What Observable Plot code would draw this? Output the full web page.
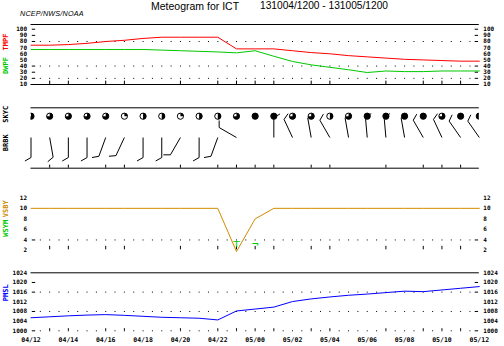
<!DOCTYPE html>
<html><head><meta charset="utf-8">
<script src="https://cdn.jsdelivr.net/npm/d3@7"></script>
<script src="https://cdn.jsdelivr.net/npm/@observablehq/plot@0.6"></script>
<style>
body{margin:0;background:#fff;}
#chart{position:relative;width:504px;height:346px;overflow:hidden;background:#fff;}
#chart svg{position:absolute;left:0;overflow:visible;}
.t{position:absolute;white-space:nowrap;line-height:1;color:#000;}
</style></head><body><div id="chart"></div>
<script>
// ---------- data (hours after 04/12 UTC, hourly observations) ----------
const hours   = [0,1,2,3,4,5,6,7,8,9,10,11,12,13,14,15,16,17,18,19,20,21,22,23,24];
const tmpf    = [74,74,75,77,80,82,85,87,87,87,87,68,68,68,65,62,60,57,55,53,51,50,49,48,48];
const dwpf    = [67,67,67,67,67,67,67,66,65,64,63,61.5,65,56,47.5,42,38,34,29.5,32,31,31,32,32,32];
const vsby    = [10,10,10,10,10,10,10,10,10,10,10,1.8,8,10,10,10,10,10,10,10,10,10,10,10,10];
const pmsl    = [1005.4,1005.8,1006.2,1006.5,1006.7,1006.4,1006.0,1005.6,1005.4,1005.2,1004.5,1008.2,1009.0,1009.8,1012.1,1013.2,1014.0,1014.7,1015.2,1015.8,1016.4,1016.2,1016.9,1017.6,1018.3];
const skyCover= [0.75,0.75,0.75,0.75,0.75,0.25,0.5,0.5,0.25,0.5,0.5,0.75,1,1,0.75,0.75,0.5,0.75,1,1,1,1,0.75,1,1];
const windDir = [180,170,180,180,200,205,180,180,210,180,200,300,0,360,335,350,330,350,355,355,350,330,335,325,325];
const windSpd = [10,10,10,10,10,10,10,10,10,10,10,10,0,10,10,10,10,10,10,10,10,10,10,10,10];
const wxHours   = [11, 12];
const wxSymbols = ["\u22A4", "\u00AC"];
const xLabelHours = [0,2,4,6,8,10,12,14,16,18,20,22,24];
const xLabels = ["04/12","04/14","04/16","04/18","04/20","04/22","05/00","05/02","05/04","05/06","05/08","05/10","05/12"];
const obsTickHours = [1,2,4,5,8,10,11,12,13,15,16,19,21,22,23];
const tempTicks = [10,20,30,40,50,60,70,80,90,100];
const tempDash  = [20,30,40,80,90,100];
const tempGrid  = [20,40,80];
const vsbyTicks = [2,4,6,8,10,12];
const vsbyDash  = [4];
const vsbyGrid  = [4];
const presTicks = [1000,1004,1008,1012,1016,1020,1024];
const presDash  = [1000,1008,1016,1020];
const presGrid  = [1000,1008,1016];

// ---------- layout ----------
const W = 504, ML = 30.5, MR = 25.2;
const XD = [0, 24];
const pxPerHour = (W - ML - MR) / (XD[1] - XD[0]);
const RED = "#ff0000", GREEN = "#00c800", ORANGE = "#d08c00", BLUE = "#0000ff";
const LBL = {fontFamily: "DejaVu Sans Mono", fontSize: 6, fontWeight: "bold"};
const obs = hours.map((h, i) => ({h, tmpf: tmpf[i], dwpf: dwpf[i], vsby: vsby[i], pmsl: pmsl[i], sky: skyCover[i], dir: windDir[i], spd: windSpd[i]}));

function yLabels(ticks) {
  return [
    Plot.text(ticks, {x: () => XD[0], y: d => d, text: d => String(d), dx: -4, textAnchor: "end", ...LBL, fill: "black"}),
    Plot.text(ticks, {x: () => XD[1], y: d => d, text: d => String(d), dx: 4, textAnchor: "start", ...LBL, fill: "black"})
  ];
}
function dashes(vals) {
  const t = 0.18;
  return [
    Plot.ruleY(vals, {x1: () => XD[0] + 0.07, x2: () => XD[0] + 0.07 + t, stroke: "black", strokeWidth: 1}),
    Plot.ruleY(vals, {x1: () => XD[1] - 0.22, x2: () => XD[1] - 0.22 + t, stroke: "black", strokeWidth: 1})
  ];
}
function grid(vals) {
  return Plot.ruleY(vals, {x1: () => 0.5, x2: () => 23.55, stroke: "black", strokeWidth: 1,
    strokeDasharray: `1 ${(pxPerHour / 2 - 1).toFixed(2)}`});
}
function panelLabel(words, colors, offsets) {
  return words.map((w, i) => Plot.text([w], {frameAnchor: "top-left", text: d => d, rotate: -90,
    dx: -27.5, dy: offsets[i], fill: colors[i], fontFamily: "DejaVu Sans Mono", fontSize: 7, fontWeight: "bold", textAnchor: "middle"}));
}
function panel(o) {
  const svg = Plot.plot({
    width: W, height: o.height, marginLeft: ML, marginRight: MR, marginTop: o.mt, marginBottom: o.mb,
    x: {domain: XD, axis: null},
    y: {domain: o.domain, axis: null},
    style: {background: "transparent", overflow: "visible"},
    marks: o.marks
  });
  svg.style.top = o.top + "px";
  document.getElementById("chart").appendChild(svg);
}

// symbols
function wedge(f) {
  return {draw(ctx, size) {
    const r = Math.sqrt(size / Math.PI), a0 = -Math.PI / 2;
    ctx.moveTo(0, 0);
    ctx.arc(0, 0, r, a0, a0 + 2 * Math.PI * f);
    ctx.closePath();
  }};
}
function barb(dir, spd) {
  return {draw(ctx) {
    const t = dir * Math.PI / 180;
    const sx = Math.sin(t), sy = -Math.cos(t);
    const px = -sy, py = sx;
    const L = 20, F = 7, gap = 3;
    ctx.moveTo(0, 0); ctx.lineTo(sx * L, sy * L);
    const full = Math.floor(spd / 10), half = (spd % 10) >= 5;
    let d = L;
    if (full === 0 && half) d = L - gap;
    const feather = (d, len) => {
      const bx = sx * d, by = sy * d;
      ctx.moveTo(bx, by);
      ctx.lineTo(bx + (px * 0.87 + sx * 0.5) * len, by + (py * 0.87 + sy * 0.5) * len);
    };
    for (let k = 0; k < full; k++) { feather(d, F); d -= gap; }
    if (half) feather(d, F / 2);
  }};
}

// ---------- panel 1: temperature / dewpoint ----------
const TD = [10, 107.7];
panel({top: 0, height: 90, mt: 24, mb: 6, domain: TD, marks: [
  Plot.ruleY([TD[1]], {stroke: "black", strokeWidth: 1}),
  Plot.ruleY([TD[0]], {stroke: "black", strokeWidth: 1}),
  grid(tempGrid), ...dashes(tempDash),
  Plot.ruleX(obsTickHours, {y1: TD[0], y2: TD[0] + 5.5, stroke: "black", strokeWidth: 1}),
  Plot.line(obs, {x: "h", y: "tmpf", stroke: RED, strokeWidth: 1}),
  Plot.line(obs, {x: "h", y: "dwpf", stroke: GREEN, strokeWidth: 1}),
  ...yLabels(tempTicks),
  ...panelLabel(["TMPF", "DWPF"], [RED, GREEN], [17.5, 41])
]});

// ---------- panel 2: wind barbs / sky cover ----------
const SD = [0, 1];
const SKY_ROW = 0.861, BARB_ROW = 0.508;
const byFrac = d3.group(obs.filter(d => d.sky > 0), d => d.sky);
panel({top: 95, height: 80, mt: 12.3, mb: 7.3, domain: SD, marks: [
  Plot.ruleY([SD[1]], {stroke: "black", strokeWidth: 1}),
  Plot.ruleY([SD[0]], {stroke: "black", strokeWidth: 1}),
  Plot.ruleX(obsTickHours, {y1: SD[0], y2: SD[0] + 0.05, stroke: "black", strokeWidth: 1}),
  ...obs.filter(d => d.spd > 0).map(d => Plot.dot([d], {x: "h", y: () => BARB_ROW, symbol: barb(d.dir, d.spd), r: 3, fill: "none", stroke: "black", strokeWidth: 1})),
  Plot.dot(obs, {x: "h", y: () => SKY_ROW, r: 3.1, fill: "white", stroke: "black", strokeWidth: 1, clip: true}),
  ...Array.from(byFrac, ([f, rows]) => Plot.dot(rows, {x: "h", y: () => SKY_ROW, r: 3.1, symbol: wedge(f), fill: "black", stroke: "none", clip: true})),
  ...panelLabel(["SKYC", "BRBK"], ["black", "black"], [6.5, 35])
]});

// ---------- panel 3: visibility / weather ----------
const VD = [2, 12];
panel({top: 180, height: 75, mt: 17.3, mb: 5, domain: VD, marks: [
  grid(vsbyGrid), ...dashes(vsbyDash),
  Plot.ruleX(obsTickHours, {y1: VD[0] + 0.13, y2: VD[0] + 0.78, stroke: "black", strokeWidth: 1}),
  Plot.line(obs, {x: "h", y: "vsby", stroke: ORANGE, strokeWidth: 1}),
  Plot.text(wxHours, {x: d => d, frameAnchor: "bottom", dy: -4, text: (d, i) => wxSymbols[i], fill: GREEN, fontFamily: "DejaVu Sans", fontSize: 9, fontWeight: "bold"}),
  ...yLabels(vsbyTicks),
  ...panelLabel(["VSBY", "WSYM"], [ORANGE, GREEN], [11, 30.5])
]});

// ---------- panel 4: pressure ----------
const PD = [1000, 1024];
panel({top: 255, height: 91, mt: 17.3, mb: 15.7, domain: PD, marks: [
  Plot.ruleY([PD[1]], {stroke: "black", strokeWidth: 1}),
  grid(presGrid), ...dashes(presDash),
  Plot.ruleX(obsTickHours, {y1: PD[0], y2: PD[0] + 0.85, stroke: "black", strokeWidth: 1}),
  Plot.line(obs, {x: "h", y: "pmsl", stroke: BLUE, strokeWidth: 1}),
  ...yLabels(presTicks),
  Plot.text(xLabelHours, {x: d => d, frameAnchor: "bottom", dy: 11, text: (d, i) => xLabels[i], fontFamily: "DejaVu Sans Mono", fontSize: 6.5, fontWeight: "bold", fill: "black"}),
  ...panelLabel(["PMSL"], [BLUE], [20])
]});

// ---------- titles ----------
const chart = document.getElementById("chart");
function addText(txt, left, top, css) {
  const d = document.createElement("div");
  d.className = "t"; d.textContent = txt;
  d.style.left = left + "px"; d.style.top = top + "px";
  Object.assign(d.style, css);
  chart.appendChild(d);
}
addText("Meteogram for ICT", 151, 1.2, {fontFamily: "Liberation Sans, Arial, sans-serif", fontSize: "10.5px"});
addText("131004/1200 - 131005/1200", 260, 1.2, {fontFamily: "Liberation Sans, Arial, sans-serif", fontSize: "10.2px"});
addText("NCEP/NWS/NOAA", 20, 10.3, {fontFamily: "Liberation Sans, Arial, sans-serif", fontSize: "7.2px", fontStyle: "italic", letterSpacing: "0.2px"});
</script></body></html>
